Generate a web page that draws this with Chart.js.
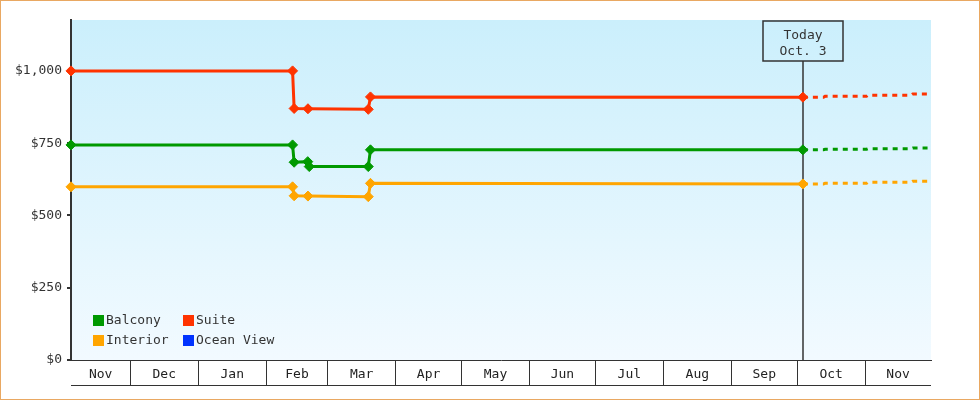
<!DOCTYPE html>
<html>
<head>
<meta charset="utf-8">
<script src="https://cdn.jsdelivr.net/npm/chart.js@4"></script>
<style>
  body { margin: 0; background: #fff; }
  #wrap { width: 980px; height: 400px; box-sizing: border-box; border: 1px solid #e9a862; }
  canvas { display: block; }
</style>
</head>
<body>
<div id="wrap"><canvas id="priceChart" width="978" height="398"></canvas></div>
<script>
// x values are days counted from Dec 1 (axis runs Nov 4 -> Dec 1 next year)
const monthLabels = ["Nov", "Dec", "Jan", "Feb", "Mar", "Apr", "May", "Jun", "Jul", "Aug", "Sep", "Oct", "Nov"];
const monthStarts = [-27, 0, 31, 62, 90, 121, 151, 182, 212, 243, 274, 304, 335];
const axisEnd = 365;

const yTicks = [0, 250, 500, 750, 1000];
const yMax = 1176;

const todayDay = 306.6;
const todayText = ["Today", "Oct. 3"];

const suiteDays = [-27, 74, 74.7, 81, 108.5, 109.5, 306.6, 316, 316.7, 335.6, 336.3, 356, 356.7, 365];
const suiteValues = [1000, 1000, 870, 869, 867, 910, 909, 909, 912, 912, 916, 916, 920, 920];

const balconyDays = [-27, 74, 74.7, 80.9, 81.6, 108.5, 109.5, 306.6, 316, 316.7, 335.6, 336.3, 356, 356.7, 365];
const balconyValues = [744, 744, 684, 686, 669, 669, 727, 727, 727, 729, 729, 731, 731, 733, 733];

const interiorDays = [-27, 74, 74.7, 81, 108.5, 109.5, 306.6, 316, 316.7, 335.6, 336.3, 356, 356.7, 365];
const interiorValues = [599, 599, 568, 567, 565, 611, 609, 609, 611, 611, 615, 615, 618, 618];

const oceanDays = [];
const oceanValues = [];

const FONT = '"DejaVu Sans Mono", monospace';
const INK = "#333";

// cell borders and centres for the month row
const monthBounds = monthStarts.slice(1);
const monthMids = monthStarts.map((s, i) => (s + (monthStarts[i + 1] ?? axisEnd)) / 2);

function makeSeries(label, color, days, values) {
    return {
        label: label,
        borderColor: color,
        backgroundColor: color,
        data: days.map((d, i) => ({ x: d, y: values[i] })),
        borderWidth: 3,
        tension: 0,
        fill: false,
        clip: false,
        pointStyle: "rectRot",
        pointRadius: ctx => (ctx.raw && ctx.raw.x <= todayDay ? 5 : 0),
        pointBorderWidth: 1,
        segment: {
            borderDash: ctx => (ctx.p0.parsed.x >= todayDay ? [5, 5] : undefined)
        }
    };
}

const bgPlugin = {
    id: "bgPlugin",
    beforeDraw(chart) {
        const { ctx, chartArea } = chart;
        const g = ctx.createLinearGradient(0, chartArea.top, 0, chartArea.bottom);
        g.addColorStop(0, "#cbeffc");
        g.addColorStop(1, "#f2faff");
        ctx.save();
        ctx.fillStyle = g;
        ctx.fillRect(chartArea.left, chartArea.top, chartArea.right - chartArea.left, chartArea.bottom - chartArea.top);
        ctx.restore();
    }
};

const todayPlugin = {
    id: "todayPlugin",
    beforeDatasetsDraw(chart) {
        const { ctx, chartArea } = chart;
        const x = Math.round(chart.scales.x.getPixelForValue(todayDay));
        const top = chartArea.top + 1;
        ctx.save();
        ctx.strokeStyle = INK;
        ctx.lineWidth = 1.5;
        ctx.strokeRect(x - 40, top, 80, 40);
        ctx.beginPath();
        ctx.moveTo(x, top + 40);
        ctx.lineTo(x, chartArea.bottom);
        ctx.stroke();
        ctx.fillStyle = INK;
        ctx.font = "13px " + FONT;
        ctx.textAlign = "center";
        ctx.textBaseline = "middle";
        ctx.fillText(todayText[0], x, top + 15);
        ctx.fillText(todayText[1], x, top + 31);
        ctx.restore();
    }
};

const legendPlugin = {
    id: "legendPlugin",
    afterDraw(chart) {
        const { ctx, chartArea } = chart;
        ctx.save();
        ctx.font = "13px " + FONT;
        ctx.textBaseline = "middle";
        chart.data.datasets.forEach((ds, i) => {
            const x = chartArea.left + 22 + (i % 2) * 90;
            const y = chartArea.bottom - 45 + Math.floor(i / 2) * 20;
            ctx.fillStyle = ds.borderColor;
            ctx.fillRect(x, y, 11, 11);
            ctx.fillStyle = INK;
            ctx.fillText(ds.label, x + 13, y + 6);
        });
        // bottom line under the month row
        const xs = chart.scales.x;
        ctx.strokeStyle = INK;
        ctx.lineWidth = 1;
        ctx.beginPath();
        ctx.moveTo(chartArea.left, xs.top + 25.5);
        ctx.lineTo(chartArea.right, xs.top + 25.5);
        ctx.stroke();
        ctx.restore();
    }
};

new Chart(document.getElementById("priceChart"), {
    type: "line",
    data: {
        datasets: [
            makeSeries("Balcony", "#009900", balconyDays, balconyValues),
            makeSeries("Suite", "#ff3300", suiteDays, suiteValues),
            makeSeries("Interior", "#ffa500", interiorDays, interiorValues),
            makeSeries("Ocean View", "#0033ff", oceanDays, oceanValues)
        ]
    },
    options: {
        responsive: false,
        animation: false,
        devicePixelRatio: 1,
        layout: { padding: { top: 19, right: 48, left: 0, bottom: 0 } },
        plugins: {
            legend: { display: false },
            tooltip: { enabled: false }
        },
        scales: {
            x: {
                type: "linear",
                min: monthStarts[0],
                max: axisEnd,
                afterBuildTicks: scale => {
                    scale.ticks = monthBounds.concat(monthMids)
                        .sort((a, b) => a - b)
                        .map(v => ({ value: v }));
                },
                afterFit: scale => { scale.height = 39; },
                border: { color: INK, width: 1 },
                grid: {
                    drawOnChartArea: false,
                    tickLength: 25,
                    lineWidth: 1,
                    color: ctx => (ctx.tick && monthBounds.includes(ctx.tick.value) ? INK : "rgba(0,0,0,0)")
                },
                ticks: {
                    autoSkip: false,
                    maxRotation: 0,
                    padding: -18,
                    color: "#222",
                    font: { family: FONT, size: 13 },
                    callback: value => {
                        const i = monthMids.indexOf(value);
                        return i >= 0 ? monthLabels[i] : "";
                    }
                }
            },
            y: {
                min: 0,
                max: yMax,
                afterBuildTicks: scale => {
                    scale.ticks = yTicks.map(v => ({ value: v }));
                },
                afterFit: scale => { scale.width = 70; },
                border: { color: INK, width: 2 },
                grid: {
                    drawOnChartArea: false,
                    tickLength: 4,
                    lineWidth: 2,
                    color: INK
                },
                ticks: {
                    padding: 5,
                    color: INK,
                    font: { family: FONT, size: 13 },
                    callback: value => "$" + value.toLocaleString("en-US")
                }
            }
        }
    },
    plugins: [bgPlugin, todayPlugin, legendPlugin]
});
</script>
</body>
</html>
